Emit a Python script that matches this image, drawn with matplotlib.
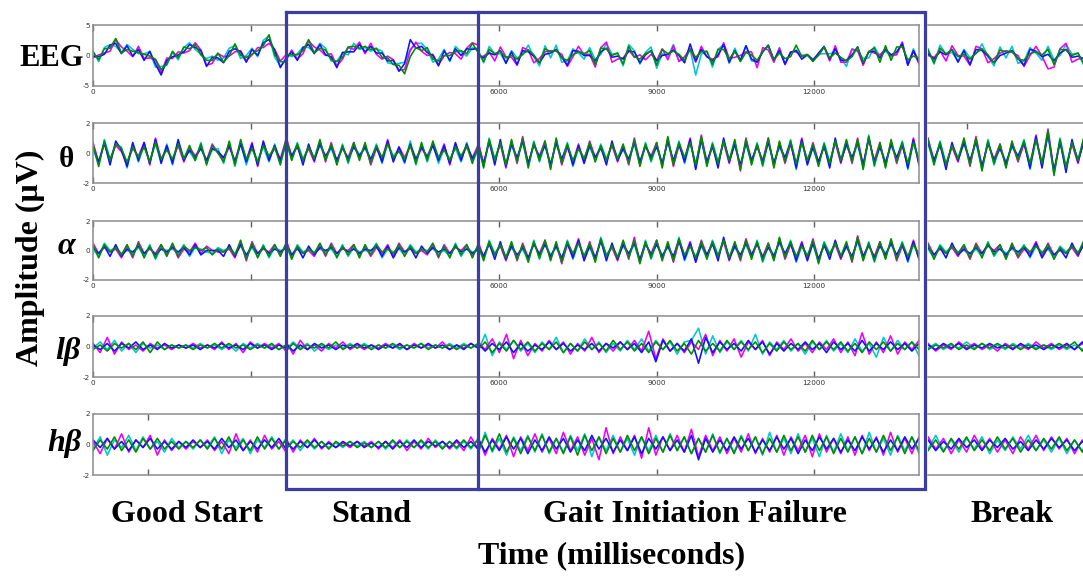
import numpy as np
import matplotlib
matplotlib.use("Agg")
import matplotlib.pyplot as plt
from matplotlib.lines import Line2D

# ---------------------------------------------------------------------------
# Channel traces, in tenths of a microvolt.  Each row/segment holds four
# channels in the order: blue, green, magenta, cyan.
# Segments: GOOD (good start), STAND, GIF (gait initiation failure), BREAK.
# ---------------------------------------------------------------------------
EEG_GOOD = [
    [-1,-2,2,17,20,3,16,-1,10,-8,7,-14,-32,-8,-2,1,6,18,13,8,-18,-3,-4,-12,7,11,6,-11,10,0,21,26,9,-20,-4],
    [6,-7,11,12,28,4,10,7,5,2,-1,-6,-23,-14,7,-4,14,11,18,1,-8,-8,4,-11,0,19,0,-3,2,8,16,34,1,-10,-11],
    [-4,1,4,7,26,14,7,-2,15,-5,-4,-7,-28,-4,-5,6,4,8,21,9,-16,-13,3,-2,-1,6,8,-9,1,13,13,20,10,-9,1],
    [7,-10,13,18,15,5,18,10,3,3,6,-19,-18,-16,5,-7,13,21,10,2,-5,-1,-8,-4,12,16,-5,0,12,-2,25,32,-3,-17,-8],
]
EEG_STAND = [
    [-5,6,-8,13,18,3,18,1,-2,-20,5,6,6,18,6,15,4,4,-9,-8,-26,-13,26,12,15,5,0,-17,8,-8,11,0,11,10,12],
    [2,1,1,8,26,4,12,9,-7,-10,-3,14,15,12,15,10,12,-3,-4,-15,-16,-30,-2,13,8,13,-6,-9,0,0,6,8,3,20,5],
    [-8,9,-6,3,24,14,9,0,3,-17,-6,13,10,22,3,20,2,-6,-1,-7,-24,-23,8,22,7,0,2,-15,-1,5,3,-6,12,21,17],
    [3,-2,3,14,13,5,20,12,-9,-9,4,1,20,10,13,7,11,7,-12,-14,-13,-11,10,20,20,10,-11,-6,10,-10,15,6,-1,13,8],
]
EEG_GIF = [
    [1,-4,4,1,8,-13,6,-15,8,6,-1,-12,2,4,10,-3,-16,8,7,0,0,-9,6,12,-3,-1,-6,7,6,-12,1,8,-9,0,2,9,0,-12,19,-9,
     10,-2,-9,1,18,-11,8,-8,16,-6,-11,6,17,-7,8,-14,5,8,-6,1,-8,4,15,-6,11,-8,-8,1,14,-13,6,7,-4,10,1,6,19,-16,8,-11],
    [7,-10,10,3,7,-4,0,-6,2,9,1,-12,11,6,9,-4,-8,1,6,3,8,-15,12,11,0,4,-14,15,-2,-6,3,7,-16,10,3,7,2,-8,10,-3,
     6,7,-15,10,10,-6,7,-10,5,1,-8,6,16,-7,4,-5,-2,17,-2,1,-10,1,14,-4,4,-3,-9,-2,14,-11,6,13,-11,16,-8,14,14,-7,-1,-4],
    [-2,-1,6,-9,14,-2,-3,-16,13,9,-12,-5,6,8,7,2,-18,-2,15,1,2,-19,13,22,-11,-6,-4,9,-3,1,-7,2,-8,11,-7,16,-10,-2,11,-11,
     15,-2,-6,-2,21,-5,-3,0,6,6,-20,13,9,-11,12,-15,6,6,-1,1,-7,0,14,-9,16,-11,-11,10,8,-16,7,4,1,11,0,1,22,-15,7,-14],
    [9,-12,15,2,3,-11,8,-4,1,17,-2,-17,16,-4,17,-11,-9,11,4,-6,13,-7,2,20,2,4,-17,18,8,-14,5,14,-21,3,-2,18,-9,-3,10,-32,
     2,7,-19,10,18,-13,12,-9,16,-9,-10,6,17,-10,13,-14,5,9,0,2,-6,2,3,3,5,-4,-18,11,7,-5,-4,14,-1,7,-2,4,22,-15,11,-11],
]
EEG_BREAK = [
    [3,-6,6,1,10,-11,8,-15,10,8,-1,-12,0,4,8,-5,-16,10,7,-2,2,-9,4,10,-3,-1,-6,3],
    [9,-12,12,3,9,-2,2,-6,4,11,1,-12,9,6,7,-6,-8,3,6,1,10,-15,10,9,0,4,-14,11],
    [0,-3,8,-9,16,0,-1,-16,15,11,-12,-5,4,8,5,0,-18,0,15,-1,-22,-19,11,20,-11,-6,-4,5],
    [11,-14,17,2,5,-9,10,-4,3,19,-2,-17,14,-4,15,-13,-9,13,4,-8,15,-7,0,18,2,4,-17,14],
]

THETA_GOOD = [
    [4,-6,7,-8,8,2,-9,7,-5,7,-7,9,-7,5,-7,9,-5,2,-3,3,-5,3,1,-3,5,-6,6,-6,6,-8,8,-5,5,-5,7],
    [6,-9,8,-5,6,3,-6,4,-3,4,-6,7,-4,2,-4,6,-4,5,-5,6,-8,5,0,-6,8,-8,9,-4,3,-6,5,-2,4,-8,9],
    [7,-6,6,-5,5,1,-7,3,-2,7,-8,10,-4,3,-5,5,-6,4,-2,4,-5,6,0,-4,4,-5,7,-5,7,-9,7,-3,3,-4,9],
    [3,-8,9,-4,6,4,-10,6,-6,5,-5,6,-6,6,-8,8,-3,1,-5,7,-7,2,3,-7,7,-9,7,-8,4,-5,4,-6,6,-7,6],
]
THETA_STAND = [
    [8,-2,5,-8,6,-5,6,-2,4,-5,4,-4,4,-2,4,-4,4,-6,8,-6,4,-6,6,-4,4,-3,5,-5,5,-7,7,-5,6,-4,3],
    [10,-5,6,-5,4,-4,9,-5,6,-8,5,-6,7,-5,7,-7,5,-3,6,-3,1,-4,5,-7,7,-5,8,-3,2,-5,4,-2,5,-7,5],
    [11,-2,4,-5,3,-6,8,-6,7,-5,3,-3,7,-4,6,-8,3,-4,9,-5,4,-3,5,-5,3,-2,6,-4,6,-8,6,-3,4,-3,5],
    [7,-4,7,-4,4,-3,5,-3,3,-7,6,-7,5,-1,3,-5,6,-7,6,-2,2,-7,8,-8,6,-6,6,-7,3,-4,3,-6,7,-6,2],
]
THETA_GIF = [
    [5,-7,8,-8,9,-9,6,-3,8,-7,6,-3,5,-8,7,-4,5,-8,5,-7,5,-3,4,-8,8,-5,3,-4,7,-6,5,-3,4,-7,8,-5,6,-6,9,-11,
     9,-6,5,-10,10,-6,6,-8,7,-5,5,-6,7,-7,5,-3,7,-10,9,-8,4,-6,5,-10,10,-6,6,-3,7,-8,10,-6,4,-7,6,-3,6,-10,9,-8],
    [7,-10,9,-5,7,-8,9,-6,10,-10,7,-5,8,-11,10,-7,6,-5,3,-4,7,-6,5,-5,6,-4,6,-7,9,-9,6,-5,7,-10,11,-8,7,-3,7,-8,
     11,-9,6,-7,8,-5,9,-11,9,-8,6,-8,10,-10,8,-6,8,-7,7,-5,6,-9,6,-7,8,-5,9,-6,9,-11,11,-8,7,-10,9,-6,7,-7,7,-5],
    [8,-7,7,-5,6,-10,8,-7,11,-7,5,-2,8,-10,9,-8,4,-6,6,-6,8,-3,3,-5,5,-6,5,-8,10,-6,4,-2,7,-9,10,-9,5,-4,10,-10,
     12,-6,4,-7,7,-7,8,-12,10,-5,4,-5,10,-9,7,-7,6,-8,10,-7,7,-6,4,-7,7,-7,8,-7,10,-8,9,-5,7,-9,8,-7,5,-8,10,-7],
    [4,-9,10,-4,7,-7,5,-4,7,-9,8,-6,6,-7,6,-5,7,-9,3,-3,4,-5,6,-4,6,-3,2,-5,6,-8,7,-6,5,-6,7,-6,8,-7,7,-7,
     8,-8,7,-6,8,-4,5,-9,6,-7,7,-9,8,-6,4,-4,9,-11,7,-4,3,-8,7,-6,8,-4,5,-4,6,-10,12,-9,5,-6,5,-4,8,-11,7,-4],
]
THETA_BREAK = [
    [7,-5,6,-11,7,-5,7,-5,8,-9,7,-5,3,-7,5,-2,7,-10,11,-10,13,-12,8,-13,9,-6,8,-5],
    [9,-8,7,-8,5,-4,10,-8,10,-12,8,-7,6,-10,8,-5,8,-7,9,-7,15,-15,9,-10,7,-5,11,-8],
    [10,-5,5,-8,4,-6,9,-9,11,-9,6,-4,6,-9,7,-6,6,-8,12,-9,16,-12,7,-10,6,-7,10,-9],
    [6,-7,8,-7,5,-3,6,-6,7,-11,9,-8,4,-6,4,-3,9,-11,9,-6,12,-14,10,-9,7,-4,7,-6],
]

ALPHA_GOOD = [
    [2,-2,3,-4,4,-4,1,-1,3,-2,2,-3,1,-1,2,-1,2,-3,4,-3,0,0,0,-4,4,-4,4,-3,3,-2,2,-2,1,-1,2],
    [4,-5,4,-1,2,-3,4,-4,5,-5,3,-5,4,-4,5,-4,3,0,2,0,2,-3,1,-1,2,-3,7,-6,5,-5,3,-4,4,-4,5],
    [5,-2,2,-1,1,-5,3,-5,6,-2,1,-2,4,-3,4,-5,1,-1,5,-2,3,0,-1,-1,1,-5,6,-7,6,-2,1,-1,4,-3,4],
    [1,-4,5,0,2,-2,0,-2,2,-4,4,-6,2,0,1,-2,4,-4,2,1,-1,-2,2,0,2,-2,3,-4,2,-4,4,-5,2,0,1],
]
ALPHA_STAND = [
    [4,-3,2,-5,3,-3,2,0,2,-2,2,-1,1,-2,1,0,3,-4,3,-5,2,-1,2,-5,3,-2,2,-1,1,-2,3,-1,1,-2,1],
    [6,-6,3,-2,1,-2,5,-3,4,-5,3,-3,4,-5,4,-3,4,-1,1,-2,4,-4,3,-2,1,-1,5,-4,3,-5,4,-3,4,-5,4],
    [7,-3,1,-2,0,-4,4,-4,5,-2,1,0,4,-4,3,-4,2,-2,4,-4,5,-1,1,-2,0,-3,4,-5,4,-2,2,0,4,-4,3],
    [3,-5,4,-1,1,-1,1,-1,1,-4,4,-4,2,-1,0,-1,5,-5,1,-1,1,-3,4,-1,1,0,1,-2,0,-4,5,-4,2,-1,0],
]
ALPHA_GIF = [
    [3,-4,5,-6,6,-6,3,-3,2,-5,5,-3,4,-4,3,-5,5,-5,7,-7,3,-5,7,-7,5,-6,4,-2,5,-6,5,-3,4,-4,3,-4,7,-6,5,-8,
     4,-3,5,-7,9,-6,3,-3,5,-3,5,-5,2,-4,6,-2,5,-7,5,-7,5,-6,4,-6,7,-5,3,-4,7,-4,4,-5,3,-3,5,-3,4,-7,6,-6],
    [5,-7,6,-3,4,-5,6,-6,4,-8,6,-5,7,-7,6,-8,6,-2,5,-4,5,-8,8,-4,3,-5,7,-5,7,-9,6,-5,7,-7,6,-7,8,-3,3,-5,
     6,-6,6,-4,7,-5,6,-6,7,-6,6,-7,5,-7,9,-5,6,-4,3,-4,7,-9,5,-3,5,-4,6,-7,9,-7,5,-7,6,-6,8,-6,5,-4,4,-3],
    [6,-4,4,-3,3,-7,5,-7,5,-5,4,-2,7,-6,5,-9,4,-3,8,-6,6,-5,6,-4,2,-7,6,-6,9,-8,4,-2,7,-6,5,-8,6,-4,6,-7,
     7,-3,4,-4,6,-7,5,-7,8,-3,4,-4,5,-6,8,-6,4,-5,6,-6,8,-6,3,-3,4,-6,5,-8,10,-4,3,-4,6,-5,7,-7,3,-5,7,-5],
    [2,-6,7,-2,4,-4,2,-4,1,-7,7,-6,5,-3,2,-6,7,-6,5,-3,2,-7,9,-3,3,-4,3,-3,4,-8,7,-6,5,-3,2,-5,9,-7,3,-4,
     3,-5,7,-3,7,-4,2,-4,4,-5,7,-8,3,-3,5,-3,7,-8,3,-3,4,-8,6,-2,5,-3,2,-5,6,-6,6,-8,4,-2,4,-4,6,-8,4,-2],
]
ALPHA_BREAK = [
    [2,-3,2,-5,5,-3,1,-2,2,-2,4,-1,1,-3,2,-1,2,-4,5,-5,2,-3,1,-5,5,-3,4,-5],
    [4,-6,3,-2,3,-2,4,-5,4,-5,5,-3,4,-6,5,-4,3,-1,3,-2,4,-6,2,-2,3,-2,7,-8],
    [5,-3,1,-2,2,-4,3,-6,5,-2,3,0,4,-5,4,-5,1,-2,6,-4,5,-3,0,-2,2,-4,6,-9],
    [1,-5,4,-1,3,-1,0,-3,1,-4,6,-4,2,-2,1,-2,4,-5,3,-1,1,-5,3,-1,3,-1,3,8],
]

LBETA_GOOD = [
    [1,-2,2,-3,2,-1,3,-2,1,-2,2,-1,1,-1,1,-2,1,-1,2,-1,1,-2,2,-1,1,-2,1,-1],
    [-2,1,-3,2,-1,2,-2,3,-4,3,-2,1,-1,1,-2,1,-1,2,-1,2,-1,1,-2,1,-1,2,-2,1],
    [2,-4,6,-5,3,-2,1,-3,2,-1,1,-2,1,-1,2,-1,1,-2,3,-2,2,-4,3,-1,2,-1,2,-3],
    [-1,3,-2,4,-3,2,-4,2,-1,1,-2,1,-1,1,-1,2,-1,1,-2,1,-3,2,-1,2,-1,1,-2,1],
]
LBETA_STAND = [
    [2,-3,1,-2,2,-1,1,-2,1,-1,2,-1,1,-2,1,-1,2,-2,1,-1,2,-1,1,-2,1,-2,2,-1],
    [-3,2,-2,1,-1,2,-1,3,-2,1,-1,1,-2,1,-1,2,-1,1,-1,2,-2,1,-1,1,-2,1,-1,2],
    [3,-5,4,-2,1,-3,2,-1,3,-2,1,-2,1,-1,2,-1,1,-2,2,-1,1,-1,3,-2,1,-1,2,-1],
    [-2,3,-1,2,-3,1,-2,1,-1,2,-1,2,-1,1,-1,1,-2,1,-1,2,-1,1,-1,2,-1,2,-1,1],
]
LBETA_GIF = [
    [2,-3,2,-2,3,-4,2,-3,1,-2,3,-2,2,-3,1,-2,2,-3,2,-1,3,-2,2,-4,3,-10,4,-3,2,-3,
     5,-11,6,-4,3,-2,2,-3,4,-2,3,-5,2,-3,2,-2,3,-2,2,-4,3,-2,2,-3,4,-3,2,-2,3,-2,2,-3,2],
    [-2,3,-4,2,-3,4,-2,3,-3,2,-2,3,-4,2,-3,3,-2,2,-3,4,-2,3,-3,2,-4,3,-2,4,-3,2,
     -5,4,-3,2,-3,4,-2,3,-2,3,-4,2,-3,3,-2,2,-3,4,-2,3,-2,3,-3,2,-4,3,-2,3,-3,2,-2,3,-2],
    [3,-2,5,-4,8,-8,4,-6,2,-3,4,-2,3,-5,2,-3,6,-4,2,-3,3,-2,4,-3,10,-8,5,-3,2,-4,
     3,-2,8,-6,4,-3,5,-7,3,-2,4,-6,3,-2,5,-3,2,-4,3,-2,5,-4,3,-6,9,-5,3,-4,7,-5,3,-2,4],
    [-3,8,-6,3,-2,4,-3,2,-4,3,-2,6,-4,2,-3,5,-2,3,-4,2,-3,4,-2,5,-3,4,-2,3,-5,3,
     4,12,-5,7,-4,3,-2,4,-3,8,-5,3,-2,4,-3,2,-5,3,-2,4,-3,2,-4,5,-3,2,-7,6,-3,4,-2,3,-6],
]
LBETA_BREAK = [
    [1,-2,2,-1,2,-2,1,-1,2,-1,1,-2,2,-1,1,-2,1,-1,2,-2,3,-4],
    [-2,1,-1,2,-2,1,-2,2,-1,2,-1,1,-2,1,-2,1,-1,2,-1,3,-3,4],
    [2,-3,1,-2,3,-1,2,-2,1,-3,2,-1,1,-2,3,-1,2,-2,1,-2,2,-3],
    [-1,2,-2,1,-1,3,-1,2,-2,1,-2,2,-1,2,-1,1,-2,1,-2,1,-2,3],
]

HBETA_GOOD = [
    [3,-2,4,-3,2,-4,3,-2,4,-3,2,-3,2,-2,3,-2,2,-3,4,-2,3,-4,2,-3,3,-2,4,-3],
    [-4,3,-3,5,-4,3,-5,4,-3,4,-3,2,-3,2,-2,3,-3,4,-3,5,-4,3,-4,5,-3,4,-3,3],
    [2,-6,4,-3,7,-5,3,-2,6,-7,3,-4,2,-3,2,-2,3,-4,2,-6,7,-4,3,-5,6,-3,2,-5],
    [-3,5,-7,3,-2,6,-4,5,-3,2,-5,4,-2,2,-3,3,-2,5,-6,3,-2,4,-6,3,-2,5,-3,4],
]
HBETA_STAND = [
    [2,-3,2,-2,3,-2,1,-2,2,-1,2,-2,1,-2,2,-3,2,-2,3,-2,2,-1,2,-2,3,-2,2,-3],
    [-3,2,-2,3,-2,2,-3,2,-1,2,-2,1,-2,2,-2,3,-2,2,-2,3,-2,2,-3,2,-2,3,-2,3],
    [4,-5,3,-2,4,-3,2,-2,1,-2,2,-1,2,-3,2,-2,3,-4,2,-3,4,-2,2,-3,2,-4,5,-3],
    [-2,3,-4,2,-3,2,-2,1,-2,2,-1,2,-2,2,-3,2,-2,3,-2,2,-3,3,-2,2,-3,2,-3,4],
]
HBETA_GIF = [
    [4,-5,3,-4,5,-3,4,-6,3,-4,5,-3,4,-5,3,-4,6,-3,4,-5,3,-4,5,-6,4,-3,5,-4,3,-5,
     6,-10,4,-5,3,-4,5,-3,4,-5,3,-4,5,-3,4,-6,3,-4,5,-3,4,-5,3,-4,5,-3,4,-5,3,-4,5,-3,4],
    [-5,6,-4,7,-5,4,-6,5,-4,6,-5,4,-6,5,-7,6,-4,5,-6,4,-5,6,-4,5,-6,4,-5,6,-4,5,
     -6,4,-5,6,-5,4,-6,5,-4,5,-6,4,-5,6,-4,5,-5,6,-4,5,-6,4,-5,5,-6,4,-5,6,-4,5,-6,5,-4],
    [5,-7,4,-3,6,-8,5,-4,7,-5,4,-6,8,-4,5,-7,4,-10,11,-6,5,-4,6,-9,11,-7,5,-4,6,-5,
     10,-8,6,-4,5,-6,4,-5,7,-6,4,-5,6,-7,5,-4,6,-8,7,-5,4,-6,5,-7,6,-4,5,-7,8,-5,4,-6,5],
    [-6,8,-5,4,-7,5,-4,6,-5,7,-6,4,-5,6,-4,7,-8,5,-4,6,-5,4,-7,5,-4,6,-5,7,-4,5,
     -6,4,-5,7,-6,4,-5,6,-4,5,-7,8,-5,4,-6,7,-5,4,-8,6,-5,7,-4,5,-6,8,-5,4,-7,6,-4,5,-6],
]
HBETA_BREAK = [
    [3,-4,2,-3,4,-2,3,-4,3,-2,4,-3,2,-4,3,-3,4,-2,3,-4,2,-3],
    [-4,3,-5,4,-3,5,-4,3,-4,5,-3,4,-5,3,-4,4,-3,5,-4,3,-5,4],
    [5,-3,4,-6,3,-5,6,-3,4,-5,3,-6,5,-3,6,-4,5,-3,4,-6,3,-5],
    [-3,6,-4,3,-5,4,-3,5,-6,3,-4,5,-3,6,-4,3,-5,4,-6,3,-4,5],
]

CHANNEL_COLORS = ["#1010ff", "#008c00", "#f000f0", "#00c8d0"]
DRAW_ORDER = [3, 2, 0, 1]

ROW_LABELS = ["EEG", "θ", "α", "lβ", "hβ"]
Y_LIMITS = [5, 2, 2, 2, 2]

# time base of the recording panel (ms); segment edges
SEGMENT_EDGES = [-1734, 1943, 5600, 14000]
X_TICKS = [-1734, 1276, 6000, 9000, 12000]
X_TICK_LABELS = ["0", "", "6000", "9000", "12000"]
X_TICKS_LAST = [-686, 6000, 9000, 12000]

PHASE_NAMES = ["Good Start", "Stand", "Gait Initiation Failure", "Break"]

ROWS = [
    (EEG_GOOD, EEG_STAND, EEG_GIF, EEG_BREAK),
    (THETA_GOOD, THETA_STAND, THETA_GIF, THETA_BREAK),
    (ALPHA_GOOD, ALPHA_STAND, ALPHA_GIF, ALPHA_BREAK),
    (LBETA_GOOD, LBETA_STAND, LBETA_GIF, LBETA_BREAK),
    (HBETA_GOOD, HBETA_STAND, HBETA_GIF, HBETA_BREAK),
]

# ---------------------------------------------------------------------------
W, H = 1083, 579
fig = plt.figure(figsize=(W / 100, H / 100), dpi=100)
fig.patch.set_facecolor("white")


def fx(px):
    return px / W


def fy(py):
    return 1 - py / H


ROW_PIX = [(25, 86), (123, 183), (221, 280), (316, 377), (414, 475)]
MAIN_X = (93, 919)
BREAK_X = (928, 1090)
FRAME = "#8c8c8c"
SERIF = "Liberation Serif"
LW = 1.15

for r, (segs, (top, bot)) in enumerate(zip(ROWS, ROW_PIX)):
    lim = Y_LIMITS[r]
    ax = fig.add_axes([fx(MAIN_X[0]), fy(bot), fx(MAIN_X[1] - MAIN_X[0]), (bot - top) / H])
    axb = fig.add_axes([fx(BREAK_X[0]), fy(bot), fx(BREAK_X[1] - BREAK_X[0]), (bot - top) / H])

    for s in range(3):
        t0, t1 = SEGMENT_EDGES[s], SEGMENT_EDGES[s + 1]
        for c in DRAW_ORDER:
            vals = np.asarray(segs[s][c], dtype=float) / 10.0
            ax.plot(np.linspace(t0, t1, len(vals)), vals, color=CHANNEL_COLORS[c], lw=LW)
    for c in DRAW_ORDER:
        vals = np.asarray(segs[3][c], dtype=float) / 10.0
        axb.plot(np.linspace(0, 1, len(vals)), vals, color=CHANNEL_COLORS[c], lw=LW)

    for a in (ax, axb):
        a.set_ylim(-lim, lim)
        for sp in a.spines.values():
            sp.set_color(FRAME)
            sp.set_linewidth(1.1)
    ax.set_xlim(SEGMENT_EDGES[0], SEGMENT_EDGES[-1])
    axb.set_xlim(0, 1.0)
    axb.spines["left"].set_visible(False)
    axb.spines["right"].set_visible(False)
    axb.set_yticks([])
    if r == 1:
        axb.set_xticks([0.24])
        axb.set_xticklabels([""])
        axb.tick_params(axis="x", direction="in", top=True, bottom=False, length=4.5,
                        width=1.0, color="#606060")
    else:
        axb.set_xticks([])

    if r < 4:
        ax.set_xticks(X_TICKS)
        ax.set_xticklabels(X_TICK_LABELS)
    else:
        ax.set_xticks(X_TICKS_LAST)
        ax.set_xticklabels([""] * len(X_TICKS_LAST))
    ax.set_yticks([-lim, 0, lim])
    ax.set_yticklabels([f"{-lim}", "0", f"{lim}"])
    ax.tick_params(axis="x", direction="in", top=True, length=4.5, width=1.0,
                   color="#606060", labelsize=5.2, labelcolor="#333333", pad=2)
    ax.tick_params(axis="y", length=0, labelsize=5.2, labelcolor="#333333", pad=2)

# band labels
fig.text(fx(52), fy(58), ROW_LABELS[0], family=SERIF, weight="bold", size=22,
         ha="center", va="center")
fig.text(fx(66), fy(160), ROW_LABELS[1], family=SERIF, weight="bold", size=21,
         ha="center", va="center")
fig.text(fx(66), fy(246), ROW_LABELS[2], family=SERIF, weight="bold", style="italic",
         size=23, ha="center", va="center")
fig.text(fx(68), fy(352), ROW_LABELS[3], family=SERIF, weight="bold", style="italic",
         size=23, ha="center", va="center")
fig.text(fx(64), fy(444), ROW_LABELS[4], family=SERIF, weight="bold", style="italic",
         size=23, ha="center", va="center")

fig.text(fx(30), fy(258), "Amplitude (μV)", family=SERIF, weight="bold", size=23,
         rotation=90, ha="center", va="center")

# phase labels and axis title
for name, px in zip(PHASE_NAMES, [187, 371, 695, 1012]):
    fig.text(fx(px), fy(515), name, family=SERIF, weight="bold", size=23,
             ha="center", va="center")
fig.text(fx(612), fy(556), "Time (milliseconds)", family=SERIF, weight="bold", size=23,
         ha="center", va="center")

# phase boxes around Stand and Gait Initiation Failure
BOX = "#3c3ca6"
lw_box = 2.3
for xs, ys in [
    ([286, 925, 925, 286, 286], [12, 12, 489, 489, 12]),
    ([478, 478], [12, 489]),
]:
    fig.add_artist(Line2D([fx(v) for v in xs], [fy(v) for v in ys], color=BOX,
                          lw=lw_box, solid_joinstyle="miter", transform=fig.transFigure))

fig.savefig("out.png", dpi=100, facecolor="white")
